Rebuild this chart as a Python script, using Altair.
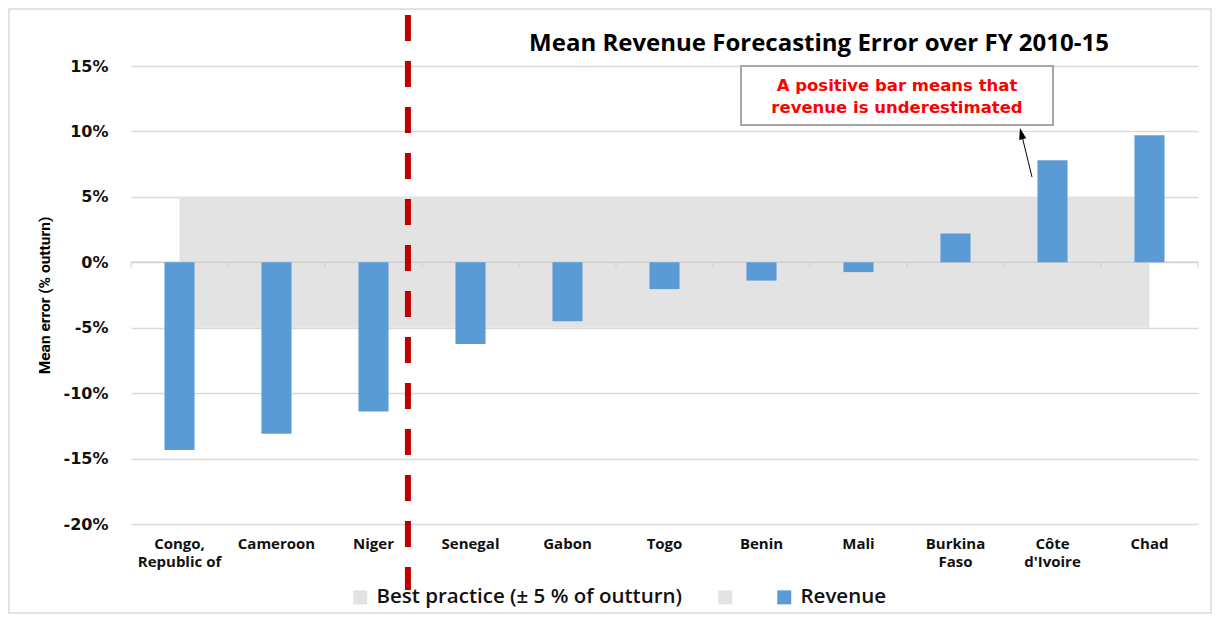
import json
import altair as alt
import pandas as pd

# ---------------- data ----------------
categories = ["Congo, Republic of", "Cameroon", "Niger", "Senegal", "Gabon", "Togo",
              "Benin", "Mali", "Burkina Faso", "Côte d'Ivoire", "Chad"]
mean_error_pct = [-14.35, -13.1, -11.4, -6.25, -4.5, -2.05, -1.4, -0.75, 2.2, 7.8, 9.7]
band_upper_pct = [5, 5, 5, 5, 5, 5, 5, 5, 5, 5, 5]
band_lower_pct = [-5, -5, -5, -5, -5, -5, -5, -5, -5, -5, -5]
y_ticks = [-20, -15, -10, -5, 0, 5, 10, 15]
label_lines = {
    "Congo, Republic of": ["Congo,", "Republic of"],
    "Burkina Faso": ["Burkina", "Faso"],
    "Côte d'Ivoire": ["Côte", "d'Ivoire"],
}
series_best = "Best practice (± 5 % of outturn)"
series_blank = "blank"
series_rev = "Revenue"
title_text = "Mean Revenue Forecasting Error over FY 2010-15"
note_lines = ["A positive bar means that", "revenue is underestimated"]
divider_category = "Niger"

# ---------------- layout ----------------
W, H = 1067, 458
GRID = "#d9d9d9"
BAND = "#e3e3e3"
BLUE = "#5b9bd5"

bars_df = pd.DataFrame({"category": categories, "value": mean_error_pct, "series": series_rev})
band_df = pd.DataFrame({"category": categories, "hi": band_upper_pct, "lo": band_lower_pct,
                        "series": series_best})
one = pd.DataFrame({"a": [0]})

expr = "datum.label"
for k, v in reversed(list(label_lines.items())):
    expr = f"datum.label == {json.dumps(k, ensure_ascii=False)} ? {json.dumps(v, ensure_ascii=False)} : {expr}"

xscale = alt.Scale(domain=categories, paddingInner=0, paddingOuter=0)
xaxis = alt.Axis(title=None, labelAngle=0, domain=False, ticks=False, grid=False,
                 labelExpr=expr, labelFont="Open Sans", labelFontWeight="bold",
                 labelFontSize=15, labelColor="#111", labelPadding=12,
                 labelLineHeight=18, labelBaseline="top", labelOverlap=False)
yscale = alt.Scale(domain=[-20, 15], nice=False, zero=False)
yaxis = alt.Axis(title="Mean error (% outturn)", values=y_ticks,
                 labelExpr="datum.value + '%'", grid=True, gridColor=GRID, gridWidth=1.5,
                 domain=False, ticks=False, labelFont="DejaVu Sans",
                 labelFontWeight="bold", labelFontSize=16, labelColor="#111",
                 labelPadding=23, titleFont="Roboto", titleFontSize=15.5,
                 titleFontWeight="bold", titleColor="#000", titleX=-82, titleY=229,
                 titleAngle=270, titleBaseline="alphabetic", titleAlign="center")

cscale = alt.Scale(domain=[series_best, series_blank, series_rev], range=[BAND, BAND, BLUE])
legend = alt.Legend(title=None, orient="none", legendX=219, legendY=521,
                    direction="horizontal", symbolType="square", symbolSize=196,
                    symbolStrokeWidth=0, symbolOpacity=1, labelFont="Open Sans",
                    labelFontSize=20.5, labelFontWeight=600, labelColor="#111",
                    labelOffset=6, columnPadding=32, padding=0, labelLimit=500,
                    labelExpr=f"datum.label == '{series_blank}' ? '' : datum.label")

X = lambda **kw: alt.X("category:N", scale=xscale, axis=xaxis, sort=categories, **kw)

frame = alt.Chart(one).mark_rect(fill=None, stroke=GRID, strokeWidth=1.5).encode(
    x=alt.value(-122), x2=alt.value(W + 13), y=alt.value(-57), y2=alt.value(H + 89))

band = alt.Chart(band_df).mark_area(opacity=1, interpolate="linear").encode(
    x=X(bandPosition=0.5),
    y=alt.Y("hi:Q", scale=yscale, axis=yaxis),
    y2="lo:Q",
    color=alt.Color("series:N", scale=cscale, legend=legend),
)

zero_line = alt.Chart(one).mark_rule(color="#d0d0d0", strokeWidth=1.5).encode(
    x=alt.value(0), x2=alt.value(W), y=alt.Y(datum=0, scale=yscale, axis=yaxis))

ticks = alt.Chart(bars_df).mark_tick(orient="vertical", size=5, thickness=1.5,
                                     color="#d0d0d0", yOffset=2.5).encode(
    x=X(bandPosition=0), y=alt.Y(datum=0, scale=yscale, axis=yaxis))
last_tick = alt.Chart(bars_df.tail(1)).mark_tick(orient="vertical", size=5, thickness=1.5,
                                                 color="#d0d0d0", yOffset=2.5).encode(
    x=X(bandPosition=1), y=alt.Y(datum=0, scale=yscale, axis=yaxis))

bars = alt.Chart(bars_df).mark_bar(width={"band": 0.31}).encode(
    x=X(),
    y=alt.Y("value:Q", scale=yscale, axis=yaxis),
    color=alt.Color("series:N", scale=cscale, legend=legend),
)

divider = alt.Chart(pd.DataFrame({"category": [divider_category]})).mark_rule(
    color="#c00000", strokeWidth=6, strokeDash=[26, 20], strokeCap="butt").encode(
    x=X(bandPosition=0.855), y=alt.value(-51), y2=alt.value(524))

arrow_line = alt.Chart(one).mark_rule(color="#000", strokeWidth=1).encode(
    x=alt.value(901), x2=alt.value(890.5), y=alt.value(111), y2=alt.value(68))
arrow_head = alt.Chart(one).mark_point(
    shape="M0,-1L0.6,0.9L-0.6,0.9Z", filled=True, fill="#000", stroke=None,
    size=144, angle=346, opacity=1).encode(x=alt.value(890.4), y=alt.value(67.8))

note_box = alt.Chart(one).mark_rect(fill="white", stroke="#a6a6a6", strokeWidth=2).encode(
    x=alt.value(610), x2=alt.value(922), y=alt.value(0), y2=alt.value(59))
note_text = alt.Chart(one).mark_text(
    text=note_lines, font="DejaVu Sans", fontSize=16.5, fontWeight="bold", color="#ff0000",
    align="center", baseline="alphabetic", lineHeight=22).encode(
    x=alt.value(766), y=alt.value(25))

title = alt.Chart(one).mark_text(
    text=title_text, font="Open Sans", fontSize=24, fontWeight="bold", color="#000",
    align="center", baseline="alphabetic").encode(x=alt.value(688), y=alt.value(-15))

chart = alt.layer(
    frame, band, zero_line, ticks, last_tick, bars, divider,
    note_box, note_text, arrow_line, arrow_head, title
).properties(
    width=W, height=H,
    autosize=alt.AutoSizeParams(type="none"),
    padding={"left": 123, "top": 58, "right": 14, "bottom": 90},
    background="white",
).configure_view(stroke=None)

chart.save("out.html", embed_options={"renderer": "svg", "actions": False})
